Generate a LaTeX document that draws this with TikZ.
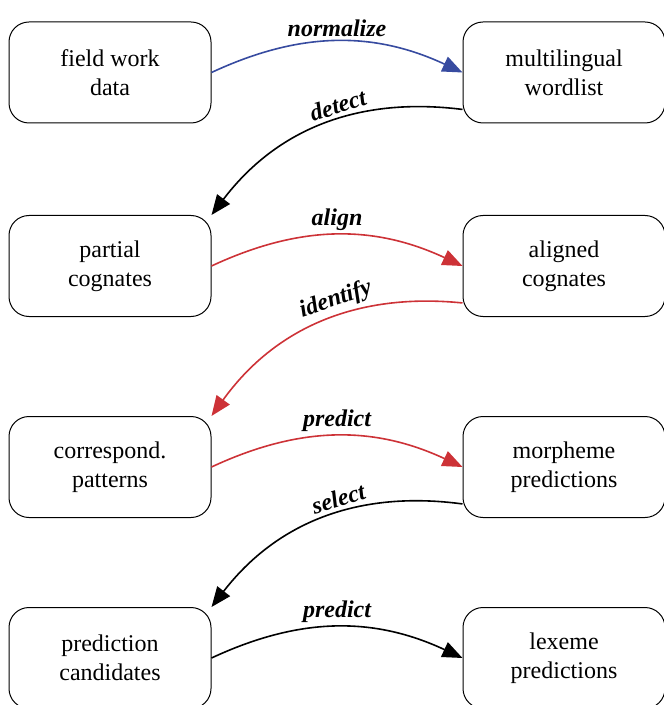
\documentclass[tikz,border=0pt]{standalone}
\usepackage{fontspec}
\setmainfont{Liberation Serif}
\usepackage{tikz}
\usetikzlibrary{arrows.meta}

\definecolor{normblue}{RGB}{55,75,160}
\definecolor{alignred}{RGB}{205,50,55}

\begin{document}
\begin{tikzpicture}[x=0.5pt, y=-0.5pt,
    box/.style={draw, rounded corners=10pt, minimum width=101pt, minimum height=50.5pt,
        align=center, font=\fontsize{12}{14.5}\selectfont, line width=0.5pt},
    flow/.style={line width=0.8pt, -{Triangle[length=10pt,width=8pt]}},
    lab/.style={midway, above, sloped, inner sep=2pt, font=\fontsize{12}{14}\selectfont\bfseries\itshape}]
\useasboundingbox (0,0) rectangle (663,705);

\draw (110,72.5) node (Field) [box] {field work\\data};
\draw (564,72.5) node (Wordlist) [box] {multilingual\\wordlist};
\draw (110,266) node (Partial) [box] {partial\\cognates};
\draw (564,266) node (Aligned) [box] {aligned\\cognates};
\draw (110,467) node (Corresp) [box] {correspond.\\patterns};
\draw (564,467) node (Morph) [box] {morpheme\\predictions};
\draw (110,658) node (Cand) [box] {prediction\\candidates};
\draw (564,658) node (Lexeme) [box] {lexeme\\predictions};

\draw[flow, normblue] (Field.east) to[bend left=25] node[lab, text=black] {normalize} (Wordlist.west);
\draw[flow] (Wordlist.200) to[bend right=30] node[lab, pos=0.42] {detect} (Partial.north east);

\draw[flow, alignred] (Partial.east) to[bend left=25] node[lab, text=black] {align} (Aligned.west);
\draw[flow, alignred] (Aligned.200) to[bend right=30] node[lab, pos=0.42, text=black] {identify} (Corresp.north east);

\draw[flow, alignred] (Corresp.east) to[bend left=25] node[lab, text=black] {predict} (Morph.west);
\draw[flow] (Morph.200) to[bend right=30] node[lab, pos=0.42] {select} (Cand.north east);

\draw[flow] (Cand.east) to[bend left=25] node[lab] {predict} (Lexeme.west);

\end{tikzpicture}
\end{document}
